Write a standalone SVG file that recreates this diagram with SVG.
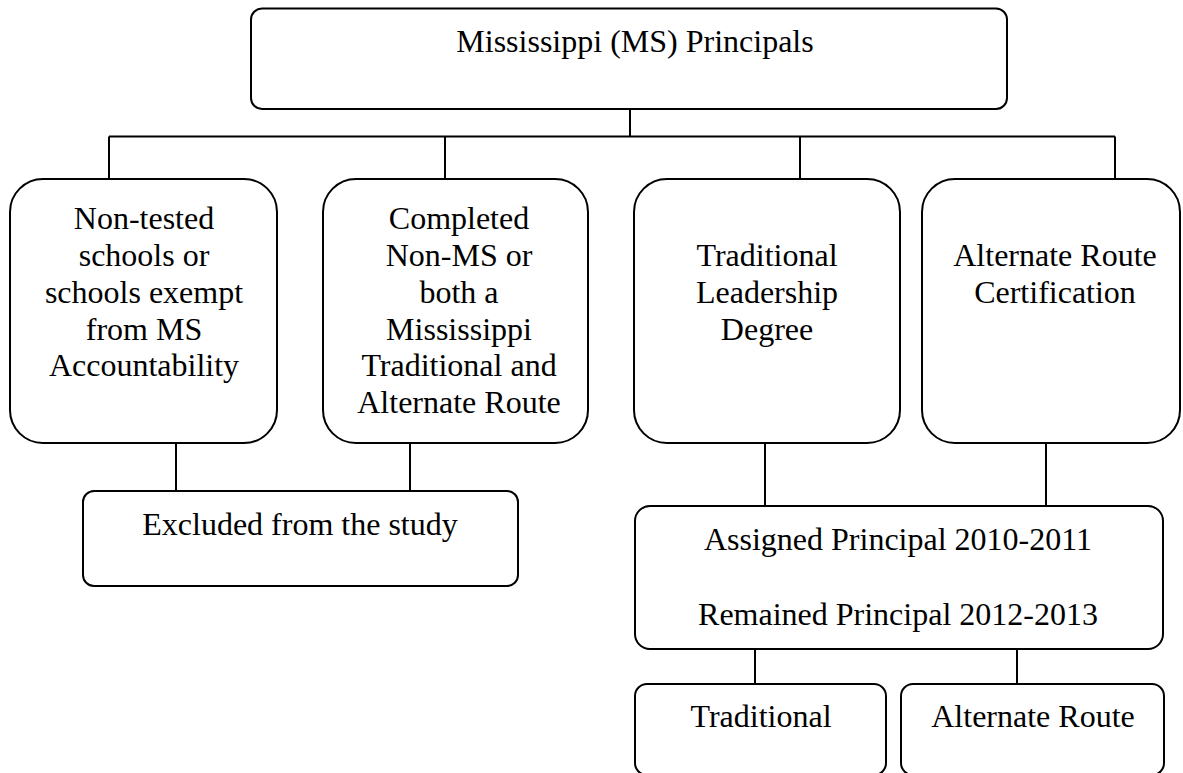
<svg xmlns="http://www.w3.org/2000/svg" width="1183" height="773" viewBox="0 0 1183 773">
<style>
.box{fill:#fff;stroke:#000;stroke-width:2}
.ln{fill:none;stroke:#000;stroke-width:2}
.t{font-family:'Liberation Serif','Times New Roman',serif;font-size:32px;fill:#000;text-anchor:middle}
</style>
<rect width="1183" height="773" fill="#fff"/>
<g id="connectors">
<line class="ln" x1="630" y1="109" x2="630" y2="136.5"/>
<line class="ln" x1="109" y1="136.5" x2="1115" y2="136.5"/>
<line class="ln" x1="109" y1="136.5" x2="109" y2="179"/>
<line class="ln" x1="445" y1="136.5" x2="445" y2="179"/>
<line class="ln" x1="800" y1="136.5" x2="800" y2="179"/>
<line class="ln" x1="1115" y1="136.5" x2="1115" y2="179"/>
<line class="ln" x1="176" y1="443" x2="176" y2="491"/>
<line class="ln" x1="410" y1="443" x2="410" y2="491"/>
<line class="ln" x1="765" y1="443" x2="765" y2="506"/>
<line class="ln" x1="1046" y1="443" x2="1046" y2="506"/>
<line class="ln" x1="755" y1="649" x2="755" y2="684"/>
<line class="ln" x1="1017" y1="649" x2="1017" y2="684"/>
</g>
<g class="t">
<g id="node-top">
<rect class="box" x="251" y="8.5" width="756" height="100.5" rx="11"/>
<text x="635" y="52">Mississippi (MS) Principals</text>
</g>
<g id="node-nontested">
<rect class="box" x="10" y="179" width="267" height="264" rx="33"/>
<text x="144" y="229">Non-tested</text>
<text x="144" y="266">schools or</text>
<text x="144" y="303">schools exempt</text>
<text x="144" y="339.5">from MS</text>
<text x="144" y="376">Accountability</text>
</g>
<g id="node-completed">
<rect class="box" x="323" y="179" width="265" height="264" rx="33"/>
<text x="459" y="229">Completed</text>
<text x="459" y="266">Non-MS or</text>
<text x="459" y="303">both a</text>
<text x="459" y="339.5">Mississippi</text>
<text x="459" y="376">Traditional and</text>
<text x="459" y="412.5">Alternate Route</text>
</g>
<g id="node-traditional-degree">
<rect class="box" x="634" y="179" width="266" height="264" rx="33"/>
<text x="767" y="266">Traditional</text>
<text x="767" y="303">Leadership</text>
<text x="767" y="339.5">Degree</text>
</g>
<g id="node-alternate-cert">
<rect class="box" x="922" y="179" width="258" height="264" rx="33"/>
<text x="1055" y="266">Alternate Route</text>
<text x="1055" y="303">Certification</text>
</g>
<g id="node-excluded">
<rect class="box" x="83" y="491" width="435" height="95" rx="11"/>
<text x="300" y="535">Excluded from the study</text>
</g>
<g id="node-assigned">
<rect class="box" x="635" y="506" width="528" height="143" rx="15"/>
<text x="898" y="550">Assigned Principal 2010-2011</text>
<text x="898" y="625">Remained Principal 2012-2013</text>
</g>
<g id="node-traditional">
<rect class="box" x="635" y="684" width="251" height="91" rx="12"/>
<text x="761" y="727">Traditional</text>
</g>
<g id="node-alternate">
<rect class="box" x="901" y="684" width="263" height="91" rx="12"/>
<text x="1033" y="727">Alternate Route</text>
</g>
</g>
</svg>
